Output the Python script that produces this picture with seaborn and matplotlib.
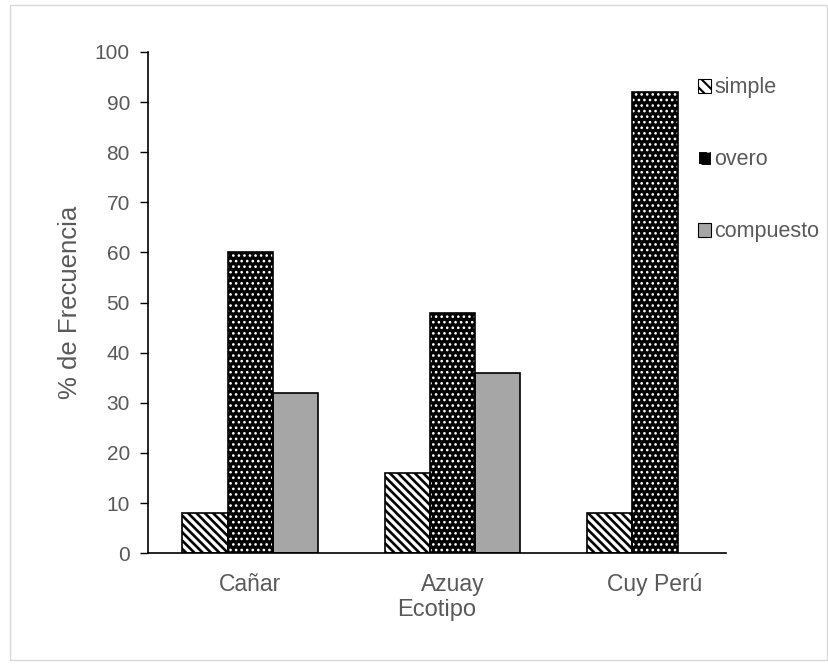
import matplotlib
matplotlib.use("Agg")
import matplotlib.pyplot as plt
import seaborn as sns
import pandas as pd
from matplotlib.patches import Rectangle

ecotipos = ["Cañar", "Azuay", "Cuy Perú"]
simple = [8, 16, 8]
overo = [60, 48, 92]
compuesto = [32, 36, 0]
series = ["simple", "overo", "compuesto"]

df = pd.DataFrame({
    "Ecotipo": ecotipos * 3,
    "valor": simple + overo + compuesto,
    "tipo": [s for s in series for _ in ecotipos],
})

sns.set_style("white")
plt.rcParams["font.family"] = ["Liberation Sans", "DejaVu Sans"]
plt.rcParams["hatch.linewidth"] = 1.5

txt = "#595959"
fig = plt.figure(figsize=(8.29, 6.65), dpi=100)
ax = fig.add_axes([0.1785, 0.168, 0.697, 0.754])

sns.barplot(data=df, x="Ecotipo", y="valor", hue="tipo", order=ecotipos,
            hue_order=series, palette=["white", "black", "#A6A6A6"],
            width=0.67, gap=0, saturation=1, ax=ax, legend=False,
            edgecolor="black", linewidth=1.2)

styles = {
    "simple": dict(face="white", hatch="\\" * 4, hatchcol="black", hlw=1.9),
    "overo": dict(face="black", hatch="...", hatchcol="white", hlw=1.1),
    "compuesto": dict(face="#A6A6A6", hatch=None, hatchcol=None, hlw=None),
}

for cont, name in zip(ax.containers, series):
    st = styles[name]
    for bar in cont:
        if bar.get_height() <= 0:
            bar.set_visible(False)
            continue
        if st["hatch"]:
            bar.set_hatch(st["hatch"])
            bar.set_edgecolor(st["hatchcol"])
            bar.set_linewidth(0)
            bar._hatch_linewidth = st["hlw"]
            outline = Rectangle(bar.get_xy(), bar.get_width(), bar.get_height(),
                                fill=False, edgecolor="black", linewidth=1.2,
                                zorder=bar.get_zorder() + 0.1)
            ax.add_patch(outline)

ax.set_ylim(0, 100)
ax.set_yticks(range(0, 101, 10))
ax.set_xlim(-0.505, 2.35)
for s in ["top", "right"]:
    ax.spines[s].set_visible(False)
for s in ["left", "bottom"]:
    ax.spines[s].set_color("black")
    ax.spines[s].set_linewidth(1.2)
ax.tick_params(axis="y", left=True, length=6, width=1, color="black",
               labelsize=15, labelcolor=txt, pad=7)
ax.tick_params(axis="x", bottom=False, labelsize=16.5, labelcolor=txt, pad=11)
ax.set_ylabel("% de Frecuencia", fontsize=18.5, color=txt, labelpad=9)
ax.set_xlabel("Ecotipo", fontsize=17, color=txt, labelpad=1.5)

# legend swatches
handles = []
for name in series:
    st = styles[name]
    if st["hatch"]:
        h = Rectangle((0, 0), 1, 1, facecolor=st["face"], edgecolor=st["hatchcol"],
                      hatch="." if name == "overo" else "\\\\\\",
                      linewidth=0.5)
        h._hatch_linewidth = 1.5 if name == "simple" else 1.4
    else:
        h = Rectangle((0, 0), 1, 1, facecolor=st["face"], edgecolor="black",
                      linewidth=1)
    handles.append(h)
leg = fig.legend(handles, series, loc="upper left", bbox_to_anchor=(0.842, 0.884),
                 frameon=False, fontsize=15.5, labelcolor=txt, handlelength=0.62,
                 handleheight=0.62, handletextpad=0.15, labelspacing=2.37,
                 borderaxespad=0, borderpad=0)
for h in leg.legend_handles:
    h.set_edgecolor("black")
    h.set_linewidth(0.8)
leg.legend_handles[1].set_edgecolor("white")

# light frame around the figure
fig.patches.append(Rectangle((0.012, 0.008), 0.985, 0.984, transform=fig.transFigure,
                             fill=False, edgecolor="#D9D9D9", linewidth=1))

fig.savefig("out.png", dpi=100)
